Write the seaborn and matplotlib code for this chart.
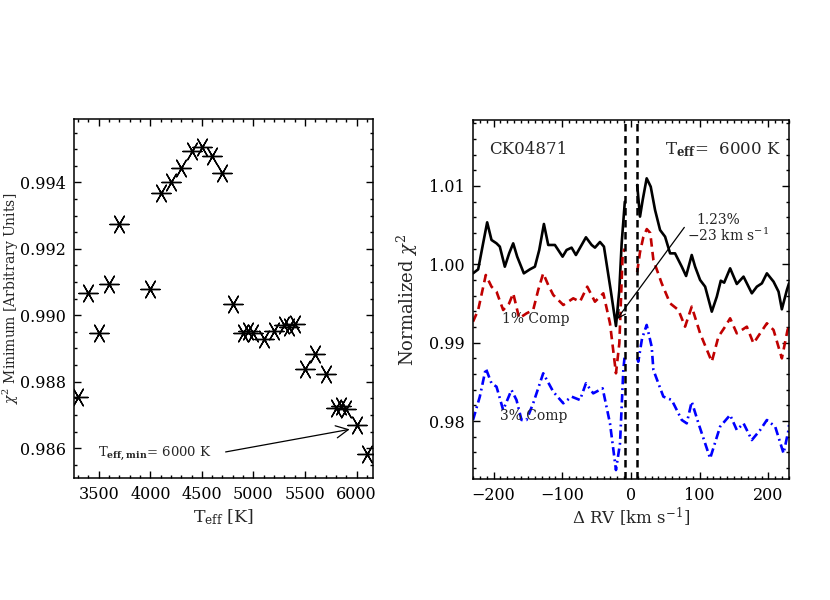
import numpy as np
import pandas as pd
import matplotlib
matplotlib.use("Agg")
import matplotlib.pyplot as plt
from matplotlib.ticker import MultipleLocator
import seaborn as sns

# ---------------- data: left panel ----------------
teff = [3300, 3400, 3500, 3600, 3700, 4000, 4100, 4200, 4300, 4400, 4500, 4600,
        4700, 4800, 4900, 4950, 5000, 5100, 5200, 5300, 5350, 5400, 5500, 5600,
        5700, 5800, 5850, 5900, 6000, 6100]
chi2_min = [0.98755, 0.99067, 0.98947, 0.99095, 0.99274, 0.99079, 0.99369, 0.99400,
            0.99444, 0.99494, 0.99505, 0.99479, 0.99427, 0.99034, 0.98947, 0.98952,
            0.98947, 0.98929, 0.98952, 0.98970, 0.98965, 0.98974, 0.98839, 0.98882,
            0.98824, 0.98722, 0.98727, 0.98717, 0.98670, 0.98582]

# ---------------- data: right panel ----------------
# black solid (no companion), split by excluded region around 0
rv_k_a = [-230, -222.5, -215.3, -209.4, -203.1, -195.8, -191.0, -183.7, -177.4, -171.5,
          -165.7, -156.0, -147.2, -139.9, -133.6, -126.8, -120.5, -110.8, -99.6, -93.8,
          -86.5, -80.2, -71.9, -65.6, -57.3, -52.5, -45.2, -39.4, -29.6, -21.9,
          -17.0, -13.6, -9.0]
chi_k_a = [0.99885, 0.99936, 1.00268, 1.00536, 1.00311, 1.00268, 1.00226, 0.99970, 1.00140, 1.00268,
           1.00098, 0.99885, 0.99936, 0.99970, 1.00183, 1.00515, 1.00247, 1.00247, 1.00098, 1.00183,
           1.00213, 1.00119, 1.00247, 1.00345, 1.00247, 1.00213, 1.00285, 1.00226, 0.99672, 0.99213,
           0.99672, 1.00268, 1.00800]
rv_k_b = [9.0, 13.1, 17.0, 22.8, 28.7, 35.0, 42.3, 49.6, 56.9, 64.1, 73.9, 80.2, 88.4, 93.3,
          100.6, 107.9, 117.6, 124.9, 130.7, 135.6, 144.3, 154.0, 163.8, 175.9, 183.2, 190.5,
          197.8, 207.5, 214.8, 219.6, 226.9, 230]
chi_k_b = [1.01013, 1.00609, 1.00821, 1.01098, 1.00991, 1.00694, 1.00438, 1.00353, 1.00140, 1.00140,
           0.99970, 0.99851, 1.00119, 0.99970, 0.99800, 0.99715, 0.99396, 0.99587, 0.99791, 0.99766,
           0.99949, 0.99749, 0.99843, 0.99630, 0.99715, 0.99757, 0.99885, 0.99779, 0.99651, 0.99426,
           0.99672, 0.99757]

# red dashed (1% companion)
rv_r_a = [-230, -222.5, -211.4, -203.1, -195.8, -186.1, -177.4, -171.5, -162.8, -152.1,
          -142.4, -135.1, -127.8, -120.5, -113.2, -98.6, -84.1, -74.3, -63.7, -52.5,
          -40.3, -30.6, -21.9, -17.0, -12.1, -9.0]
chi_r_a = [0.99268, 0.99417, 0.99864, 0.99715, 0.99651, 0.99417, 0.99502, 0.99630, 0.99311, 0.99374,
           0.99417, 0.99672, 0.99885, 0.99736, 0.99609, 0.99481, 0.99566, 0.99523, 0.99715, 0.99523,
           0.99630, 0.99247, 0.98609, 0.98991, 1.00140, 1.00200]
rv_r_b = [9.0, 13.0, 18.0, 23.0, 28.0, 32.6, 44.7, 56.9, 69.0, 78.7, 88.4, 100.6, 117.6, 127.3,
          137.0, 144.3, 154.0, 168.6, 178.3, 188.0, 197.8, 207.5, 219.6, 227.9, 230]
chi_r_b = [0.99900, 1.00150, 1.00350, 1.00450, 1.00400, 1.00055, 0.99757, 0.99502, 0.99417, 0.99204,
           0.99460, 0.99119, 0.98757, 0.99077, 0.99204, 0.99311, 0.99119, 0.99204, 0.98991, 0.99119,
           0.99247, 0.99162, 0.98800, 0.99162, 0.99200]

# blue dash-dot (3% companion)
rv_b_a = [-230, -220.1, -211.4, -203.1, -195.8, -186.1, -174.0, -166.7, -159.4, -152.1,
          -142.4, -127.8, -113.2, -98.6, -86.5, -74.3, -65.6, -55.0, -41.3, -30.6,
          -21.9, -16.0, -11.2, -9.0]
chi_b_a = [0.98013, 0.98311, 0.98672, 0.98481, 0.98438, 0.98140, 0.98396, 0.98268, 0.98013, 0.98013,
           0.98226, 0.98609, 0.98374, 0.98226, 0.98311, 0.98268, 0.98481, 0.98353, 0.98417, 0.97970,
           0.97374, 0.97715, 0.98651, 0.98850]
rv_b_b = [9.0, 10.6, 16.0, 22.8, 30.1, 32.6, 47.1, 59.3, 73.9, 81.1, 88.4, 98.2, 115.2, 129.7,
          144.3, 154.0, 163.8, 175.9, 188.0, 197.8, 209.9, 222.1, 229.3, 230]
chi_b_b = [0.98800, 0.98757, 0.99050, 0.99226, 0.98948, 0.98651, 0.98311, 0.98268, 0.98013, 0.97970,
           0.98247, 0.97970, 0.97523, 0.97928, 0.98077, 0.97885, 0.97970, 0.97757, 0.97885, 0.98013,
           0.97928, 0.97587, 0.97885, 0.97950]

excluded_rv = [-9, 9]

# ---------------- style ----------------
sns.set_style("ticks")
plt.rcParams['font.family'] = 'serif'
plt.rcParams['font.serif'] = ['DejaVu Serif']
plt.rcParams['mathtext.fontset'] = 'dejavuserif'
plt.rcParams['axes.linewidth'] = 1.1

fig = plt.figure(figsize=(8.3, 6), dpi=100)
ax1 = fig.add_axes([0.0892, 0.2033, 0.3602, 0.598])
ax2 = fig.add_axes([0.5699, 0.2017, 0.3807, 0.598])

def style_axes(ax, size):
    ax.tick_params(which='both', direction='in', top=True, right=True, labelsize=size,
                   width=1.0, colors='black')
    ax.tick_params(which='major', length=5, pad=6)
    ax.tick_params(which='minor', length=2.5)
    for s in ax.spines.values():
        s.set_visible(True)
        s.set_color('black')

# ---------------- left panel ----------------
df_left = pd.DataFrame({'teff': teff, 'chi2': chi2_min})
sns.scatterplot(data=df_left, x='teff', y='chi2', ax=ax1, marker=(6, 2, 90), s=190,
                color='black', linewidth=1.0, legend=False, zorder=3)
sns.scatterplot(data=df_left, x='teff', y='chi2', ax=ax1, marker='o', s=9,
                color='black', linewidth=0, legend=False, zorder=4)
ax1.set_xlim(3260, 6160)
ax1.set_ylim(0.9851, 0.9959)
ax1.xaxis.set_major_locator(MultipleLocator(500))
ax1.xaxis.set_minor_locator(MultipleLocator(100))
ax1.yaxis.set_major_locator(MultipleLocator(0.002))
ax1.yaxis.set_minor_locator(MultipleLocator(0.0005))
ax1.yaxis.set_major_formatter(matplotlib.ticker.FormatStrFormatter('%.3f'))
style_axes(ax1, 11.5)
ax1.set_xlabel(r'T$_{\rm eff}$ [K]', fontsize=12.5, labelpad=3)
ax1.set_ylabel(r'$\chi^2$ Minimum [Arbitrary Units]', fontsize=10)
ax1.yaxis.set_label_coords(-0.178, 0.5)
ax1.annotate('', xy=(5960, 0.98658), xytext=(4704, 0.98587),
             arrowprops=dict(arrowstyle='->', color='black', lw=0.9, mutation_scale=22))
ax1.text(3497, 0.98583, r'T$_{\bf eff,min}$= 6000 K', fontsize=9.5, ha='left', va='center')

# ---------------- right panel ----------------
segments = [
    (rv_k_a, chi_k_a, 'black', '-'),
    (rv_k_b, chi_k_b, 'black', '-'),
    (rv_r_a, chi_r_a, '#C00000', (0, (3.2, 2.0))),
    (rv_r_b, chi_r_b, '#C00000', (0, (3.2, 2.0))),
    (rv_b_a, chi_b_a, '#0000FF', (0, (3.2, 1.5, 0.7, 1.5))),
    (rv_b_b, chi_b_b, '#0000FF', (0, (3.2, 1.5, 0.7, 1.5))),
]
for xs, ys, col, ls in segments:
    sns.lineplot(x=xs, y=ys, ax=ax2, color=col, linestyle=ls, linewidth=1.9,
                 estimator=None, sort=False)
for v in excluded_rv:
    ax2.axvline(v, color='black', linestyle=(0, (3.0, 1.8)), linewidth=1.8)

ax2.set_xlim(-230, 230)
ax2.set_ylim(0.9726, 1.0184)
ax2.xaxis.set_major_locator(MultipleLocator(100))
ax2.xaxis.set_minor_locator(MultipleLocator(10))
ax2.yaxis.set_major_locator(MultipleLocator(0.01))
ax2.yaxis.set_minor_locator(MultipleLocator(0.002))
ax2.yaxis.set_major_formatter(matplotlib.ticker.FormatStrFormatter('%.2f'))
style_axes(ax2, 11.5)
ax2.set_xlabel(r'$\Delta$ RV [km s$^{-1}$]', fontsize=12, labelpad=1)
ax2.set_ylabel(r'Normalized $\chi^2$', fontsize=13)
ax2.yaxis.set_label_coords(-0.168, 0.5)

ax2.text(-149, 1.0146, 'CK04871', fontsize=12, ha='center', va='center')
ax2.text(49, 1.0146, r'T$_{\bf eff}$=  6000 K', fontsize=12, ha='left', va='center')
ax2.text(127, 1.0057, '1.23%', fontsize=10, ha='center', va='center')
ax2.text(141, 1.0037, r'$-$23 km s$^{-1}$', fontsize=10, ha='center', va='center')
ax2.text(-188, 0.9930, '1% Comp', fontsize=10, ha='left', va='center')
ax2.text(-191, 0.9806, '3% Comp', fontsize=10, ha='left', va='center')
ax2.annotate('', xy=(-23, 0.9927), xytext=(80, 1.0050),
             arrowprops=dict(arrowstyle='->', color='black', lw=0.9, mutation_scale=14))

fig.savefig('out.png', dpi=100)
